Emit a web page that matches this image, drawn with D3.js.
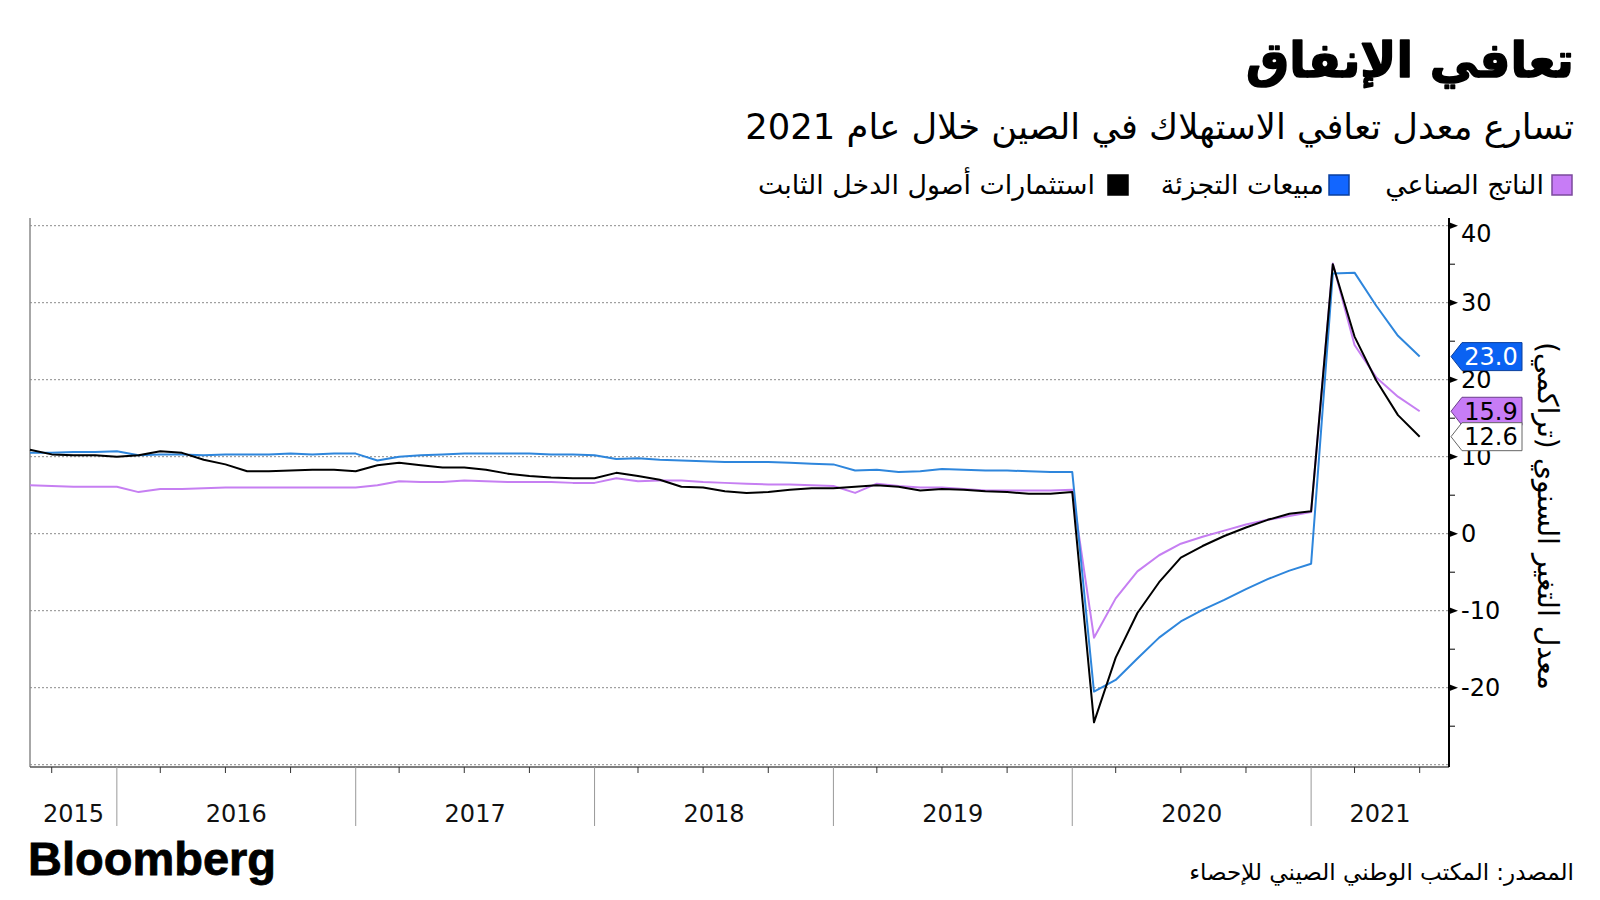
<!DOCTYPE html>
<html><head><meta charset="utf-8">
<script src="https://cdn.jsdelivr.net/npm/d3@7"></script>
<style>body{margin:0;background:#fff} svg{display:block}</style>
</head><body><svg id="c" width="1600" height="900"></svg>
<script>
// ---------- DATA ----------
const periods = [
 "2015-08","2015-09","2015-10","2015-11","2015-12",
 "2016-02","2016-03","2016-04","2016-05","2016-06","2016-07","2016-08","2016-09","2016-10","2016-11","2016-12",
 "2017-02","2017-03","2017-04","2017-05","2017-06","2017-07","2017-08","2017-09","2017-10","2017-11","2017-12",
 "2018-02","2018-03","2018-04","2018-05","2018-06","2018-07","2018-08","2018-09","2018-10","2018-11","2018-12",
 "2019-02","2019-03","2019-04","2019-05","2019-06","2019-07","2019-08","2019-09","2019-10","2019-11","2019-12",
 "2020-02","2020-03","2020-04","2020-05","2020-06","2020-07","2020-08","2020-09","2020-10","2020-11","2020-12",
 "2021-02","2021-03","2021-04","2021-05","2021-06"];
const industrial = [
 6.3,6.2,6.1,6.1,6.1,
 5.4,5.8,5.8,5.9,6.0,6.0,6.0,6.0,6.0,6.0,6.0,
 6.3,6.8,6.7,6.7,6.9,6.8,6.7,6.7,6.7,6.6,6.6,
 7.2,6.8,6.9,6.9,6.7,6.6,6.5,6.4,6.4,6.3,6.2,
 5.3,6.5,6.2,6.0,6.0,5.8,5.6,5.6,5.6,5.6,5.7,
 -13.5,-8.4,-4.9,-2.8,-1.3,-0.4,0.4,1.2,1.8,2.3,2.8,
 35.1,24.5,20.3,17.8,15.9];
const retail = [
 10.5,10.5,10.6,10.6,10.7,
 10.2,10.3,10.3,10.2,10.3,10.3,10.3,10.4,10.3,10.4,10.4,
 9.5,10.0,10.2,10.3,10.4,10.4,10.4,10.4,10.3,10.3,10.2,
 9.7,9.8,9.6,9.5,9.4,9.3,9.3,9.3,9.2,9.1,9.0,
 8.2,8.3,8.0,8.1,8.4,8.3,8.2,8.2,8.1,8.0,8.0,
 -20.5,-19.0,-16.2,-13.5,-11.4,-9.9,-8.6,-7.2,-5.9,-4.8,-3.9,
 33.8,33.9,29.6,25.7,23.0];
const fixedAsset = [
 10.9,10.3,10.2,10.2,10.0,
 10.2,10.7,10.5,9.6,9.0,8.1,8.1,8.2,8.3,8.3,8.1,
 8.9,9.2,8.9,8.6,8.6,8.3,7.8,7.5,7.3,7.2,7.2,
 7.9,7.5,7.0,6.1,6.0,5.5,5.3,5.4,5.7,5.9,5.9,
 6.1,6.3,6.1,5.6,5.8,5.7,5.5,5.4,5.2,5.2,5.4,
 -24.5,-16.1,-10.3,-6.3,-3.1,-1.6,-0.3,0.8,1.8,2.6,2.9,
 35.0,25.6,19.9,15.4,12.6];
const seriesNames = ["الناتج الصناعي","مبيعات التجزئة","استثمارات أصول الدخل الثابت"];
const yTickValues = [40,30,20,10,0,-10,-20];
const yGridValues = [40,30,20,10,0,-10,-20,-30];
const yMinorValues = [35,25,15,5,-5,-15,-25];
const titleText = "تعافي الإنفاق";
const subtitleText = "تسارع معدل تعافي الاستهلاك في الصين خلال عام 2021";
const yAxisTitle = "معدل التغير السنوي (تراكمي)";
const sourceText = "المصدر: المكتب الوطني الصيني للإحصاء";

// ---------- LAYOUT ----------
const plot = {left: 30, right: 1449, top: 218, bottom: 767};
const svg = d3.select("#c");
const AR = "'DejaVu Sans', 'Noto Sans', sans-serif";
const NUM = "'DejaVu Sans', sans-serif";
const colors = {purple:"#c67ff2", blue:"#2e86dc", black:"#000000",
  purpleBox:"#c77cf6", blueBox:"#0a62f2"};

const x = d3.scaleLinear().domain([0, 65.35]).range([plot.left, plot.right]);
const y = d3.scaleLinear().domain([-30.3, 41]).range([plot.bottom, plot.top]);

function fit(sel, target, lo, hi){
  const w = sel.node().getComputedTextLength();
  const fs = parseFloat(sel.attr("font-size"));
  let n = fs * target / w; n = Math.max(lo, Math.min(hi, n));
  sel.attr("font-size", n);
  return n;
}
function arText(xx, yy, txt, size, weight){
  return svg.append("text").attr("x", xx).attr("y", yy)
    .attr("direction","rtl").style("direction","rtl").style("unicode-bidi","embed")
    .attr("text-anchor","start").attr("font-family", AR)
    .attr("font-size", size).attr("font-weight", weight||"normal")
    .attr("fill","#000").text(txt);
}

// Title, subtitle
fit(arText(1574, 77, titleText, 52, "bold").attr("stroke","#000").attr("stroke-width",1.6)
  .attr("stroke-linejoin","round"), 328, 44, 60);
fit(arText(1574, 139, subtitleText, 32, "normal"), 829, 27, 38);

// Legend
const legend = [
  {name: seriesNames[0], sq: 1552, tr: 1544, fill: colors.purpleBox, stroke:"#7b4a9c"},
  {name: seriesNames[1], sq: 1329, tr: 1324, fill: "#1266ff", stroke:"#0a3f9e"},
  {name: seriesNames[2], sq: 1108, tr: 1095, fill: "#000", stroke:"#000"}
];
const lt = arText(legend[2].tr, 194, legend[2].name, 26, "normal");
const lfs = fit(lt, 337, 22, 30);
legend.forEach((d,i)=>{
  svg.append("rect").attr("x", d.sq).attr("y", 175).attr("width", 20).attr("height", 20)
    .attr("fill", d.fill).attr("stroke", d.stroke).attr("stroke-width", 1.5);
  if (i < 2) arText(d.tr, 194, d.name, lfs, "normal");
});

// Gridlines
svg.append("g").selectAll("line").data(yGridValues).join("line")
  .attr("x1", plot.left).attr("x2", plot.right)
  .attr("y1", d=>y(d)).attr("y2", d=>y(d))
  .attr("stroke", "#8a8a8a").attr("stroke-width", 1).attr("stroke-dasharray", "2,2");

// Box left & bottom
svg.append("line").attr("x1", plot.left).attr("x2", plot.left).attr("y1", plot.top).attr("y2", plot.bottom)
  .attr("stroke", "#8a8a8a").attr("stroke-width", 1.5);
svg.append("line").attr("x1", plot.left).attr("x2", plot.right).attr("y1", plot.bottom).attr("y2", plot.bottom)
  .attr("stroke", "#555").attr("stroke-width", 1.5);

// X axis ticks
const idx = periods.map((p,i)=>i);
const decIdx = idx.filter(i=>periods[i].endsWith("-12"));
const qIdx = idx.filter(i=>/-(03|06|09)$/.test(periods[i]));
svg.append("g").selectAll("line").data(decIdx).join("line")
  .attr("x1", d=>x(d)).attr("x2", d=>x(d)).attr("y1", plot.bottom).attr("y2", 826)
  .attr("stroke", "#999").attr("stroke-width", 1);
svg.append("g").selectAll("line").data(qIdx).join("line")
  .attr("x1", d=>x(d)).attr("x2", d=>x(d)).attr("y1", plot.bottom).attr("y2", plot.bottom+6)
  .attr("stroke", "#333").attr("stroke-width", 1);
// Year labels centred between boundaries
const years = Array.from(new Set(periods.map(p=>p.slice(0,4))));
const yearSpans = years.map(yr=>{
  const prevDec = idx.find(i=>periods[i] === (+yr-1)+"-12");
  const a = prevDec !== undefined ? x(prevDec) : plot.left;
  const lastDec = idx.find(i=>periods[i] === yr+"-12");
  const b = lastDec !== undefined ? x(lastDec) : plot.right;
  return {yr, c:(a+b)/2};
});
svg.append("g").selectAll("text").data(yearSpans).join("text")
  .attr("x", d=>d.c).attr("y", 822).attr("text-anchor","middle")
  .attr("font-family", NUM).attr("font-size", 24).attr("fill","#111").text(d=>d.yr);

// Lines
const line = d3.line().x((d,i)=>x(i)).y(d=>y(d));
[[industrial, colors.purple],[retail, colors.blue],[fixedAsset, colors.black]].forEach(([vals,c])=>{
  svg.append("path").datum(vals).attr("d", line).attr("fill","none")
    .attr("stroke", c).attr("stroke-width", 2).attr("stroke-linejoin","round");
});

// Right axis
svg.append("line").attr("x1", plot.right).attr("x2", plot.right).attr("y1", plot.top).attr("y2", plot.bottom)
  .attr("stroke", "#000").attr("stroke-width", 2);
svg.append("g").selectAll("path").data(yTickValues).join("path")
  .attr("d", d=>`M${plot.right},${y(d)-3.5}L${plot.right+9},${y(d)}L${plot.right},${y(d)+3.5}Z`)
  .attr("fill","#000");
svg.append("g").selectAll("line").data(yMinorValues).join("line")
  .attr("x1", plot.right).attr("x2", plot.right+6).attr("y1", d=>y(d)).attr("y2", d=>y(d))
  .attr("stroke","#000").attr("stroke-width",1);
const topTick = d3.max(yTickValues);
svg.append("g").selectAll("text").data(yTickValues).join("text")
  .attr("x", plot.right+12).attr("y", d=>y(d) + (d === topTick ? 8 : 0)).attr("dy","0.36em")
  .attr("font-family", NUM).attr("font-size", 24).attr("fill","#000").text(d=>d);

// End labels
const ends = [
  {v: retail[retail.length-1], fill: colors.blueBox, stroke:"#0a3f9e", tc:"#fff"},
  {v: industrial[industrial.length-1], fill: colors.purpleBox, stroke:"#6b3f8a", tc:"#000"},
  {v: fixedAsset[fixedAsset.length-1], fill: "#fff", stroke:"#666", tc:"#000"}
];
ends.forEach(d=>{
  const yy = y(d.v), tip = plot.right+2, r = 1522, h = 14;
  svg.append("path").attr("d", `M${tip},${yy}L${tip+11},${yy-h}L${r},${yy-h}L${r},${yy+h}L${tip+11},${yy+h}Z`)
    .attr("fill", d.fill).attr("stroke", d.stroke).attr("stroke-width", 1);
  svg.append("text").attr("x", 1491).attr("y", yy).attr("dy","0.36em").attr("text-anchor","middle")
    .attr("font-family", NUM).attr("font-size", 24).attr("fill", d.tc).text(d.v.toFixed(1));
});

// Y axis title (rotated)
const yt = svg.append("text").attr("transform","translate(1538,516) rotate(90)")
  .attr("direction","rtl").style("direction","rtl").style("unicode-bidi","embed")
  .attr("text-anchor","middle").attr("font-family", AR).attr("font-size", 26).attr("fill","#000")
  .text(yAxisTitle);
fit(yt, 348, 22, 30);

// Footer
svg.append("text").attr("x", 28).attr("y", 875).attr("font-family","'Liberation Sans', Arial, sans-serif")
  .attr("font-weight","bold").attr("font-size", 47).attr("letter-spacing", 0)
  .attr("stroke","#000").attr("stroke-width",0.8).attr("fill","#000").text("Bloomberg");
fit(arText(1574, 880, sourceText, 22, "normal"), 385, 18, 26);
</script></body></html>
